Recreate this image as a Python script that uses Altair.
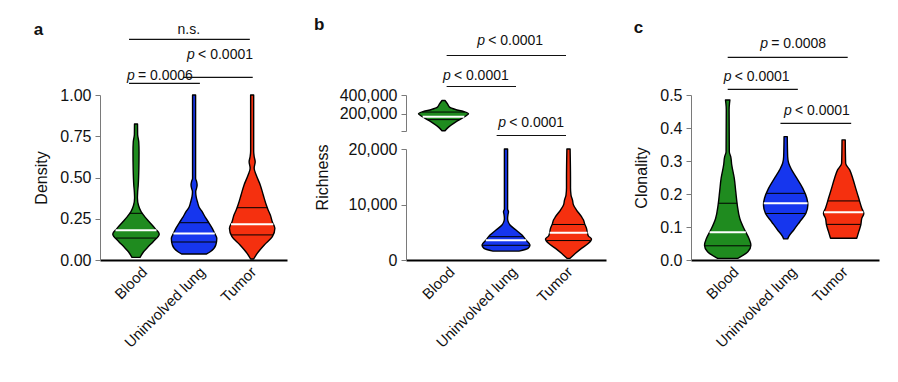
import json
import numpy as np
import pandas as pd
import altair as alt

FONT = "Liberation Sans"
groups = ["Blood", "Uninvolved lung", "Tumor"]
colors = ["#1f8b1f", "#1636ee", "#f5300f"]

# ---------- panel a : Density ----------
a_blood_y = [0.016, 0.05, 0.08, 0.111, 0.158, 0.19, 0.232, 0.26, 0.293, 0.33, 0.376, 0.41, 0.455, 0.55, 0.656, 0.717, 0.76, 0.824]
a_blood_w = [4, 7.5, 12, 17, 23, 19, 13, 9, 5, 2.5, 1.4, 1.6, 2.2, 2.8, 3, 2.7, 1.6, 1.5]
a_lung_y = [0.036, 0.05, 0.091, 0.131, 0.16, 0.192, 0.232, 0.26, 0.293, 0.32, 0.353, 0.385, 0.414, 0.435, 0.455, 0.475, 0.495, 0.6, 1.0]
a_lung_w = [12, 16, 21.5, 22.5, 20.5, 18, 14, 11, 8, 5, 3.3, 2, 1.6, 2.5, 3, 2.5, 1.5, 1.5, 1.5]
a_tumor_y = [0.006, 0.04, 0.091, 0.141, 0.192, 0.23, 0.273, 0.3, 0.333, 0.394, 0.455, 0.515, 0.556, 0.596, 0.626, 0.66, 1.0]
a_tumor_w = [1.5, 5, 12, 20, 22.5, 20, 18, 16, 14, 11, 8, 4, 2, 3, 2, 1.5, 1.5]
a_q1 = [0.133, 0.109, 0.152]
a_median = [0.18, 0.16, 0.216]
a_q3 = [0.283, 0.226, 0.317]
a_br_x1 = [-0.12, 0.81, -0.12]
a_br_x2 = [1.96, 2.01, 1.10]
a_br_py = [-55.7, -17.7, -11.7]
a_lbl_x = [0.88, -0.155]
a_lbl_py = [-40, -19.3]
a_lbl_rest = ["< 0.0001", "= 0.0006"]
a_ns_x = [0.91]
a_ns_py = [-65]
a_ns_text = ["n.s."]

# ---------- panel b : Richness ----------
b_blood_y = [22000, 61000, 114000, 149000, 184000, 202000, 226000, 247000, 272000, 307000, 342000]
b_blood_w = [1.5, 5, 12, 17.5, 23, 25, 20, 12, 6, 4, 1.5]
b_lung_y = [1600, 2100, 2700, 3600, 4500, 5400, 6300, 7000, 7500, 8200, 8700, 9200, 20000]
b_lung_w = [13, 22, 24, 20, 16, 10, 4, 2, 1.6, 2, 2.5, 1.6, 1.6]
b_tumor_y = [300, 1200, 2100, 3000, 3800, 4300, 4800, 5700, 6600, 7200, 7800, 9000, 9900, 10800, 11700, 13000, 14700, 20000]
b_tumor_w = [1.5, 7, 13, 20, 23, 20, 19, 18, 16, 15, 13, 8, 5, 4, 2.5, 2, 2, 1.6]
b_q1 = [140000, 2650, 3500]
b_median = [170000, 3550, 4900]
b_q3 = [220000, 4200, 6400]
b_br_x1 = [0.05, 0.05, 0.85]
b_br_x2 = [1.96, 1.16, 1.96]
b_br_py = [-39.5, -8.5, 40.5]
b_lbl_x = [0.54, -0.01, 0.876]
b_lbl_py = [-54.5, -19.5, 27.8]
b_lbl_rest = ["< 0.0001", "< 0.0001", "< 0.0001"]

# ---------- panel c : Clonality ----------
c_blood_y = [0.005, 0.01, 0.025, 0.045, 0.066, 0.096, 0.126, 0.167, 0.207, 0.248, 0.288, 0.313, 0.328, 0.455, 0.475, 0.485]
c_blood_w = [10, 13, 20, 23, 21, 16, 12, 9.5, 8, 6.5, 4, 3, 1.6, 1.4, 1.8, 2.2]
c_lung_y = [0.064, 0.071, 0.091, 0.116, 0.141, 0.167, 0.187, 0.217, 0.248, 0.273, 0.293, 0.313, 0.374]
c_lung_w = [2, 3, 8, 14, 20, 22, 21, 17, 11, 6, 3, 2, 1.6]
c_tumor_y = [0.066, 0.086, 0.106, 0.126, 0.141, 0.157, 0.187, 0.217, 0.248, 0.273, 0.293, 0.364]
c_tumor_w = [13, 15, 17, 18, 20, 18, 15, 12, 9, 6, 2, 1.6]
c_q1 = [0.043, 0.141, 0.108]
c_median = [0.084, 0.172, 0.145]
c_q3 = [0.172, 0.202, 0.179]
c_br_x1 = [0.0, 0.0, 0.91]
c_br_x2 = [2.07, 1.21, 2.13]
c_br_py = [-37.7, -5.7, 28.3]
c_lbl_x = [0.56, -0.07, 0.97]
c_lbl_py = [-50.7, -18.3, 16]
c_lbl_rest = ["= 0.0008", "< 0.0001", "< 0.0001"]

HALF = 0.4  # widest violin half-width in category units
LBL = 16
TTL = 16
PTXT = 14

x_axis = alt.Axis(
    values=[0, 1, 2], labelExpr=f"{json.dumps(groups)}[datum.value]",
    labelAngle=-45, labelAlign="right", labelBaseline="middle", labelPadding=9,
    labelOffset={"condition": {"test": "datum.value == 2", "value": 1}, "value": 8},
    ticks=False, domainColor="black", domainWidth=2, grid=False, title=None,
    labelOverlap=False, labelFontSize=15,
)


def y_axis(**kw):
    base = dict(grid=False, domainColor="#7a7a7a", tickColor="#7a7a7a", tickSize=5,
                labelFontSize=LBL, titleFontSize=TTL, labelPadding=4, titlePadding=10,
                labelOverlap=False)
    base.update(kw)
    return alt.Axis(**base)


def build(profiles, idxs, q1, med, q3, xdom, ydom, yaxis, xaxis, width, height,
          brackets=None, labels=None, ns=None):
    wmax = max(max(w) for _, w in profiles)
    xs = alt.Scale(domain=xdom, nice=False, zero=False)
    ys = alt.Scale(domain=ydom, nice=False, zero=False)

    def X(f):
        return alt.X(f, type="quantitative", scale=xs, axis=xaxis)

    def Y(f):
        return alt.Y(f, type="quantitative", scale=ys, axis=yaxis)

    frames = []
    for i in idxs:
        yv, wv = profiles[i]
        hw = np.asarray(wv, float) / wmax * HALF
        frames.append(pd.DataFrame({"group": groups[i], "y": yv, "x1": i - hw, "x2": i + hw}))
    vdf = pd.concat(frames, ignore_index=True)

    def qdf(vals):
        rows = []
        for i in idxs:
            yv, wv = profiles[i]
            hw = float(np.interp(vals[i], yv, wv)) / wmax * HALF
            rows.append({"y": vals[i], "x1": i - hw, "x2": i + hw})
        return pd.DataFrame(rows)

    layers = [
        alt.Chart(vdf).mark_area(orient="horizontal", interpolate="monotone", stroke="black",
                                 strokeWidth=1.4, strokeJoin="round", opacity=1).encode(
            x=X("x1"), x2=alt.X2("x2"), y=Y("y"),
            color=alt.Color("group:N", scale=alt.Scale(domain=groups, range=colors), legend=None),
        ),
        alt.Chart(pd.concat([qdf(q1), qdf(q3)], ignore_index=True)).mark_rule(
            color="black", strokeWidth=1).encode(x=X("x1"), x2=alt.X2("x2"), y=Y("y")),
        alt.Chart(qdf(med)).mark_rule(color="white", strokeWidth=2).encode(
            x=X("x1"), x2=alt.X2("x2"), y=Y("y")),
    ]
    py = alt.Y("py:Q", scale=None, axis=None)
    if brackets:
        bdf = pd.DataFrame({"bx1": brackets[0], "bx2": brackets[1], "py": brackets[2]})
        layers.append(alt.Chart(bdf).mark_rule(color="#111", strokeWidth=1.2).encode(
            x=X("bx1"), x2=alt.X2("bx2"), y=py))
    if labels:
        ldf = pd.DataFrame({"tx": labels[0], "py": labels[1], "rest": labels[2]})
        ldf["p"] = "p"
        layers.append(alt.Chart(ldf).mark_text(align="left", baseline="middle", fontStyle="italic",
                                               fontSize=PTXT, font=FONT, color="#111").encode(
            x=X("tx"), y=py, text="p:N"))
        layers.append(alt.Chart(ldf).mark_text(align="left", baseline="middle", dx=11,
                                               fontSize=PTXT, font=FONT, color="#111").encode(
            x=X("tx"), y=py, text="rest:N"))
    if ns:
        ndf = pd.DataFrame({"tx": ns[0], "py": ns[1], "t": ns[2]})
        layers.append(alt.Chart(ndf).mark_text(align="center", baseline="middle",
                                               fontSize=PTXT, font=FONT, color="#111").encode(
            x=X("tx"), y=py, text="t:N"))
    return alt.layer(*layers).properties(width=width, height=height)


def ttl(s, off):
    return alt.TitleParams(s, anchor="start", frame="bounds", fontSize=17, fontWeight="bold",
                           font=FONT, offset=off, baseline="alphabetic", color="#111")


pa = build([(a_blood_y, a_blood_w), (a_lung_y, a_lung_w), (a_tumor_y, a_tumor_w)], [0, 1, 2],
           a_q1, a_median, a_q3, [-0.62, 2.6], [0, 1],
           y_axis(values=[0, 0.25, 0.5, 0.75, 1], format=".2f", title="Density"),
           x_axis, 187, 165,
           brackets=(a_br_x1, a_br_x2, a_br_py), labels=(a_lbl_x, a_lbl_py, a_lbl_rest),
           ns=(a_ns_x, a_ns_py, a_ns_text)).properties(title=ttl("a", -28.5))

b_prof = [(b_blood_y, b_blood_w), (b_lung_y, b_lung_w), (b_tumor_y, b_tumor_w)]
pb_up = build(b_prof, [0], b_q1, b_median, b_q3, [-0.6, 2.6], [20000, 400000],
              y_axis(values=[20000, 200000, 400000],
                     labelExpr="datum.value < 100000 ? '' : format(datum.value, ',')", title=None),
              None, 200, 36,
              brackets=(b_br_x1, b_br_x2, b_br_py), labels=(b_lbl_x, b_lbl_py, b_lbl_rest))
pb_low = build(b_prof, [1, 2], b_q1, b_median, b_q3, [-0.6, 2.6], [0, 20000],
               y_axis(values=[0, 10000, 20000], format=",d", title="Richness", titleY=28, titlePadding=18),
               x_axis, 200, 111)
pb = alt.vconcat(pb_up, pb_low, spacing=18, bounds="flush").properties(title=ttl("b", -13.5))

pc = build([(c_blood_y, c_blood_w), (c_lung_y, c_lung_w), (c_tumor_y, c_tumor_w)], [0, 1, 2],
           c_q1, c_median, c_q3, [-0.633, 2.61], [0, 0.5],
           y_axis(values=[0, 0.1, 0.2, 0.3, 0.4, 0.5], format=".1f", title="Clonality"),
           x_axis, 188, 165,
           brackets=(c_br_x1, c_br_x2, c_br_py), labels=(c_lbl_x, c_lbl_py, c_lbl_rest)).properties(
    title=ttl("c", -13))

chart = (
    alt.hconcat(pa, pb, pc, spacing=27)
    .properties(padding={"left": 25, "top": 8, "right": 5, "bottom": 25}, background="white")
    .configure_view(stroke=None)
    .configure_axis(labelFont=FONT, titleFont=FONT, labelColor="#111", titleColor="#111",
                    titleFontWeight="normal", titleFontSize=TTL, labelFontSize=LBL)
)

chart.save("out.html", embed_options={"renderer": "svg", "actions": False})
